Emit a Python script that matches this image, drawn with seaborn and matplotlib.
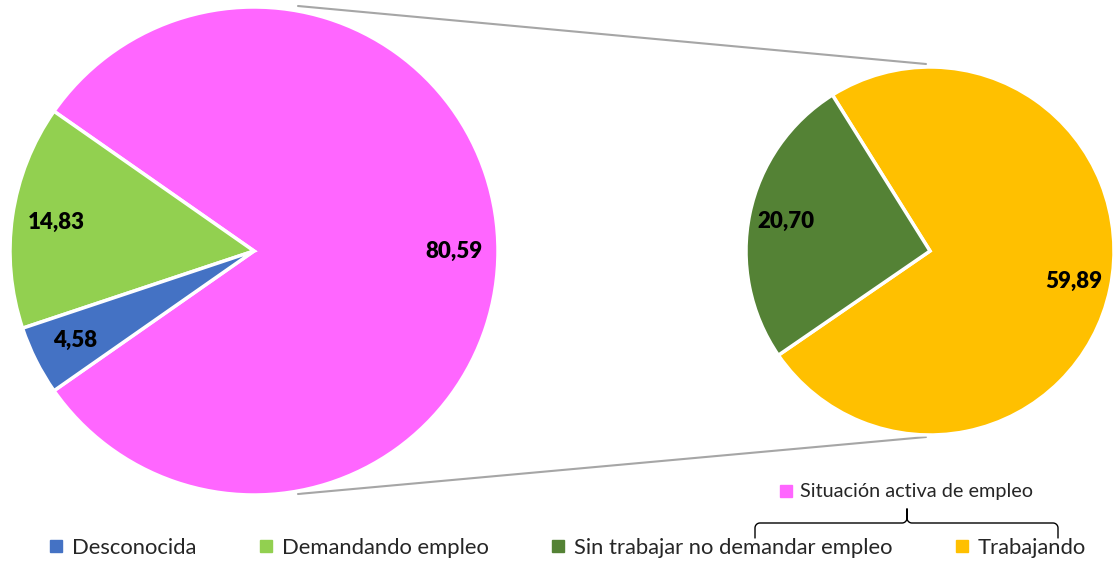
import matplotlib.pyplot as plt
from matplotlib.lines import Line2D
import numpy as np
import seaborn as sns

sns.set_theme(style="white")
plt.rcParams["font.family"] = ["Lato", "DejaVu Sans"]

# data
main_labels = ["Situación activa de empleo", "Demandando empleo", "Desconocida"]
main_values = [80.59, 14.83, 4.58]
main_colors = ["#FF66FF", "#92D050", "#4472C4"]

sub_labels = ["Trabajando", "Sin trabajar no demandar empleo"]
sub_values = [59.89, 20.70]
sub_colors = ["#FFC000", "#548235"]

legend_order = ["Desconocida", "Demandando empleo", "Sin trabajar no demandar empleo", "Trabajando"]
legend_colors = ["#4472C4", "#92D050", "#548235", "#FFC000"]

W, H = 1114, 562
fig = plt.figure(figsize=(W / 100, H / 100), dpi=100)
ax = fig.add_axes([0, 0, 1, 1])


def fmt(vals):
    total = sum(vals)
    return lambda p: f"{p * total / 100:.2f}".replace(".", ",")


# left pie, "other" slice centred on the right
left_c, left_r = (254, H - 251), 244
start = -main_values[0] / sum(main_values) * 360 / 2
ax.pie(main_values, colors=main_colors, startangle=start, center=left_c,
       radius=left_r, autopct=fmt(main_values), pctdistance=0.82, frame=True,
       wedgeprops=dict(edgecolor="white", linewidth=2.5),
       textprops=dict(fontsize=16, fontweight="heavy", color="black"))

# right pie
right_c, right_r = (930, H - 251), 184
ax.pie(sub_values, colors=sub_colors, startangle=-145.5, center=right_c,
       radius=right_r, autopct=fmt(sub_values), pctdistance=0.8, frame=True,
       wedgeprops=dict(edgecolor="white", linewidth=2.5),
       textprops=dict(fontsize=16, fontweight="heavy", color="black"))

# connector lines
ax.plot([298, 926], [H - 6, H - 64], color="#A6A6A6", lw=1.5, zorder=0)
ax.plot([298, 926], [H - 494, H - 437], color="#A6A6A6", lw=1.5, zorder=0)

# brace under the "Situación activa" entry
x0, x1, xm = 755, 1058, 907
yb, yt, ytip = H - 538, H - 523, H - 509
t = np.linspace(0, np.pi / 2, 20)
rr = 5
path_x = np.concatenate([[x0], x0 + rr - rr * np.cos(t), [xm - rr], xm - rr + rr * np.sin(t),
                         [xm], xm + rr - rr * np.sin(t[::-1]), [x1 - rr], x1 - rr + rr * np.cos(t[::-1]), [x1]])
path_y = np.concatenate([[yb], yt - rr + rr * np.sin(t), [yt], yt + rr - rr * np.cos(t),
                         [ytip], yt + rr - rr * np.cos(t[::-1]), [yt], yt - rr + rr * np.sin(t[::-1]), [yb]])
ax.plot(path_x, path_y, color="black", lw=1)

ax.set_xlim(0, W)
ax.set_ylim(0, H)
ax.set_aspect("equal")
ax.axis("off")

handles = [Line2D([], [], marker="s", linestyle="", color=c, markersize=8) for c in legend_colors]
fig.legend(handles, legend_order, loc="center", bbox_to_anchor=(568 / W, 14 / H), ncol=4,
           frameon=False, fontsize=15.8, handlelength=0.55, handletextpad=0.45,
           columnspacing=2.9, borderpad=0)

pink = [Line2D([], [], marker="s", linestyle="", color=main_colors[0], markersize=8)]
fig.legend(pink, [main_labels[0]], loc="center", bbox_to_anchor=(907 / W, (H - 492) / H),
           frameon=False, fontsize=14.3, handlelength=0.55, handletextpad=0.45, borderpad=0)

fig.savefig("out.png", dpi=100)
